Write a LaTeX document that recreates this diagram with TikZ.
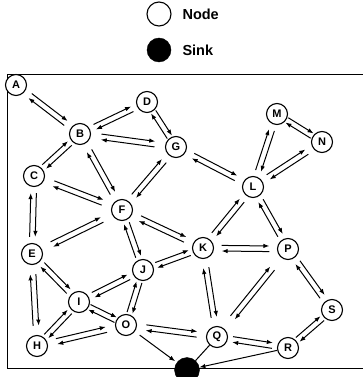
\documentclass[tikz,border=0pt]{standalone}
\usepackage{fontspec}
\setmainfont{Liberation Sans}
\usetikzlibrary{arrows.meta,%
                calc}

\begin{document}
\begin{tikzpicture}[x=1pt,y=-1pt]
		\tikzstyle{VertexStyle}=[draw,circle,line width=1.1pt,fill=white,minimum size=21pt,inner sep=0pt,font=\bfseries\fontsize{11}{11}\selectfont]
		\tikzstyle{SinkStyle}=[draw,circle,fill=black,minimum size=25pt,inner sep=0pt]
		\tikzstyle{KeyStyle}=[anchor=west,font=\bfseries\fontsize{14.5}{14.5}\selectfont]
		\tikzstyle{EdgeStyle}=[line width=1pt,-{Latex[length=6pt,width=4.5pt]},
			to path={($(\tikztostart)!0.22!(\tikztotarget)!2.8pt!90:(\tikztotarget)$) -- ($(\tikztostart)!0.78!(\tikztotarget)!2.8pt!90:(\tikztotarget)$)}]
		\tikzstyle{SinkEdge}=[line width=1pt]
		\useasboundingbox (0,0) rectangle (363,377);
		% key
		\node[VertexStyle,minimum size=24pt] (keynode) at (159,14) {};
		\node[KeyStyle] (keynodetext) at (179,14) {Node};
		\node[SinkStyle,minimum size=24pt] (keysink) at (159,50) {};
		\node[KeyStyle] (keysinktext) at (179,50) {Sink};
		% field border (open on the right)
		\draw[line width=0.9pt] (363,74) -- (7,74) -- (7,368) -- (363,368);
		% sensor nodes
		\node[VertexStyle] (A) at (16,85) {A};
		\node[VertexStyle] (B) at (80,134) {B};
		\node[VertexStyle] (C) at (34,176) {C};
		\node[VertexStyle] (D) at (147,102) {D};
		\node[VertexStyle] (E) at (32,254) {E};
		\node[VertexStyle] (F) at (122,210) {F};
		\node[VertexStyle] (G) at (176,147) {G};
		\node[VertexStyle] (H) at (37,346) {H};
		\node[VertexStyle] (I) at (79,302) {I};
		\node[VertexStyle] (J) at (143,270) {J};
		\node[VertexStyle] (K) at (203,248) {K};
		\node[VertexStyle] (L) at (253,187) {L};
		\node[VertexStyle] (M) at (277,114) {M};
		\node[VertexStyle] (N) at (322,142) {N};
		\node[VertexStyle] (O) at (126,325) {O};
		\node[VertexStyle] (P) at (288,249) {P};
		\node[VertexStyle] (Q) at (217,337) {Q};
		\node[VertexStyle] (R) at (288,348) {R};
		\node[VertexStyle] (S) at (332,310) {S};
		\node[SinkStyle] (sink) at (187,370) {};
		% two-way links
		\draw[EdgeStyle] (A) to (B); \draw[EdgeStyle] (B) to (A);
		\draw[EdgeStyle] (B) to (D); \draw[EdgeStyle] (D) to (B);
		\draw[EdgeStyle] (D) to (G); \draw[EdgeStyle] (G) to (D);
		\draw[EdgeStyle] (B) to (G); \draw[EdgeStyle] (G) to (B);
		\draw[EdgeStyle] (B) to (C); \draw[EdgeStyle] (C) to (B);
		\draw[EdgeStyle] (B) to (F); \draw[EdgeStyle] (F) to (B);
		\draw[EdgeStyle] (C) to (F); \draw[EdgeStyle] (F) to (C);
		\draw[EdgeStyle] (C) to (E); \draw[EdgeStyle] (E) to (C);
		\draw[EdgeStyle] (G) to (F); \draw[EdgeStyle] (F) to (G);
		\draw[EdgeStyle] (G) to (L); \draw[EdgeStyle] (L) to (G);
		\draw[EdgeStyle] (M) to (L); \draw[EdgeStyle] (L) to (M);
		\draw[EdgeStyle] (M) to (N); \draw[EdgeStyle] (N) to (M);
		\draw[EdgeStyle] (N) to (L); \draw[EdgeStyle] (L) to (N);
		\draw[EdgeStyle] (F) to (E); \draw[EdgeStyle] (E) to (F);
		\draw[EdgeStyle] (F) to (K); \draw[EdgeStyle] (K) to (F);
		\draw[EdgeStyle] (F) to (J); \draw[EdgeStyle] (J) to (F);
		\draw[EdgeStyle] (L) to (K); \draw[EdgeStyle] (K) to (L);
		\draw[EdgeStyle] (L) to (P); \draw[EdgeStyle] (P) to (L);
		\draw[EdgeStyle] (K) to (P); \draw[EdgeStyle] (P) to (K);
		\draw[EdgeStyle] (K) to (J); \draw[EdgeStyle] (J) to (K);
		\draw[EdgeStyle] (K) to (Q); \draw[EdgeStyle] (Q) to (K);
		\draw[EdgeStyle] (P) to (Q); \draw[EdgeStyle] (Q) to (P);
		\draw[EdgeStyle] (P) to (S); \draw[EdgeStyle] (S) to (P);
		\draw[EdgeStyle] (S) to (R); \draw[EdgeStyle] (R) to (S);
		\draw[EdgeStyle] (R) to (Q); \draw[EdgeStyle] (Q) to (R);
		\draw[EdgeStyle] (E) to (I); \draw[EdgeStyle] (I) to (E);
		\draw[EdgeStyle] (E) to (H); \draw[EdgeStyle] (H) to (E);
		\draw[EdgeStyle] (J) to (I); \draw[EdgeStyle] (I) to (J);
		\draw[EdgeStyle] (J) to (O); \draw[EdgeStyle] (O) to (J);
		\draw[EdgeStyle] (I) to (O); \draw[EdgeStyle] (O) to (I);
		\draw[EdgeStyle] (I) to (H); \draw[EdgeStyle] (H) to (I);
		\draw[EdgeStyle] (O) to (H); \draw[EdgeStyle] (H) to (O);
		\draw[EdgeStyle] (O) to (Q); \draw[EdgeStyle] (Q) to (O);
		% links into the sink
		\draw[SinkEdge,-{Latex[length=6pt,width=4.5pt]},shorten <=6pt,shorten >=2pt] (O) -- (sink);
		\draw[SinkEdge,-{Latex[length=6pt,width=4.5pt]}] (R) -- (sink);
		\draw[SinkEdge] (Q) -- (sink);
	\end{tikzpicture}
\end{document}
